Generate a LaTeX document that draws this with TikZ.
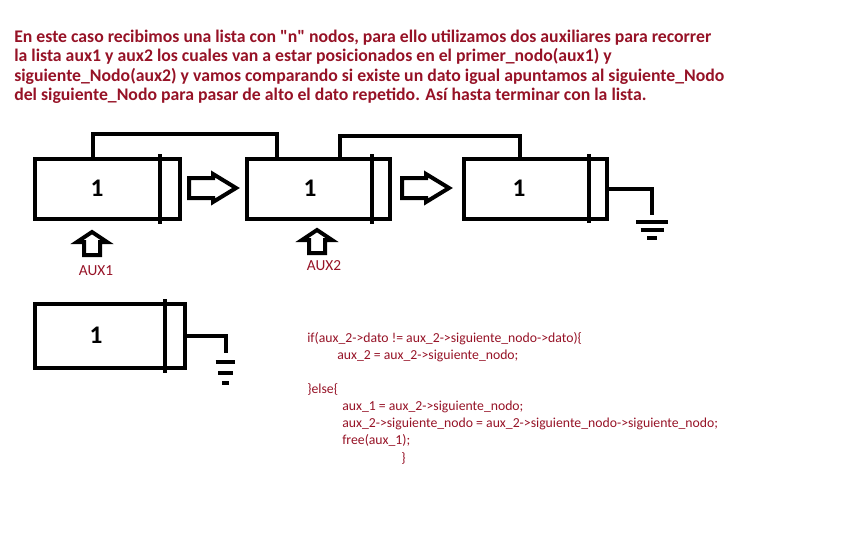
\documentclass[tikz,border=0pt]{standalone}
\usepackage{fontspec}
\setmainfont{Carlito}[Ligatures=TeXOff]
\definecolor{rojo}{RGB}{150,18,38}
\tikzset{
	nodo/.style={draw, line width=3pt, inner sep=0pt, minimum width=108.75pt, minimum height=45pt},
	linea/.style={line width=3pt},
	dato/.style={font=\fontsize{19}{22}\selectfont\bfseries},
	texto/.style={text=rojo, align=left, inner sep=0pt},
	flecha/.pic={\draw[linea] (0,-10) -- (24,-10) -- (24,-14) -- (47,0) -- (24,14) -- (24,10) -- (0,10) -- cycle;},
	puntero/.pic={\draw[linea] (0,-8) -- (13,-8) -- (13,-15) -- (23,0) -- (13,15) -- (13,8) -- (0,8) -- cycle;},
	tierra/.pic={\draw[linea] (-16,7) -- (16,7) (-11.5,15) -- (11.5,15) (-5,23) -- (5,23);}
}

\begin{document}
\begin{tikzpicture}[x=0.75pt, y=-0.75pt]
	\useasboundingbox (0,0) rectangle (841,543);
	% texto de arriba
	\node (titulo) [texto, anchor=north west, font=\fontsize{13.3}{14.4}\selectfont\bfseries] at (14,30)
		{En este caso recibimos una lista con "n" nodos, para ello utilizamos dos auxiliares para recorrer\\
		la lista aux1 y aux2 los cuales van a estar posicionados en el primer\_nodo(aux1) y\\
		siguiente\_Nodo(aux2) y vamos comparando si existe un dato igual apuntamos al siguiente\_Nodo\\
		del siguiente\_Nodo para pasar de alto el dato repetido. Así hasta terminar con la lista.};
	% nodos de la lista
	\node (b1) [nodo] at (107.5,189) {};
	\node (b2) [nodo, minimum width=107.25pt] at (318.5,189) {};
	\node (b3) [nodo, minimum width=107.25pt] at (535.5,188.5) {};
	\node (b4) [nodo, minimum width=112.5pt, minimum height=48pt] at (110,336) {};
	\foreach \b/\d in {b1/16.5pt, b2/15pt, b3/15pt, b4/16.5pt}
		\draw[linea] ([xshift=-\d, yshift=2pt]\b.north east) -- ([xshift=-\d, yshift=-2pt]\b.south east);
	\node (d1) [dato] at (97,188) {1};
	\node (d2) [dato] at (310,188) {1};
	\node (d3) [dato] at (519,188) {1};
	\node (d4) [dato] at (96,335) {1};
	% enlaces por arriba
	\draw[linea] ([xshift=-11.25pt]b1.north) -- ++(0,-23) -| ([xshift=-31.5pt]b2.north);
	\draw[linea] ([xshift=15.75pt]b2.north) -- ++(0,-21) -| ([xshift=-12pt]b3.north);
	% flechas entre nodos
	\pic at (189,188) {flecha};
	\pic at (402,188) {flecha};
	% a tierra
	\coordinate (g3) at (652,215);
	\coordinate (g4) at (225.5,353);
	\draw[linea] (b3.east) -| (g3);
	\draw[linea] (b4.east) -| (g4);
	\pic at (g3) {tierra};
	\pic[xscale=.62, yscale=1.3] at (g4) {tierra};
	% punteros auxiliares
	\pic[rotate=90] at (92,255) {puntero};
	\pic[rotate=90] at (317,253) {puntero};
	\node (aux1) [texto, font=\fontsize{11.5}{13}\selectfont] at (96,271) {AUX1};
	\node (aux2) [texto, font=\fontsize{11.5}{13}\selectfont] at (324,266) {AUX2};
	% codigo
	\node (codigo) [texto, anchor=north west, font=\fontsize{10.3}{12.9}\selectfont] at (307,332)
		{if(aux\_2->dato != aux\_2->siguiente\_nodo->dato)\{\\
		\hspace*{22.5pt}aux\_2 = aux\_2->siguiente\_nodo;\\[12.5pt]
		\}else\{\\
		\hspace*{26.25pt}aux\_1 = aux\_2->siguiente\_nodo;\\
		\hspace*{26.25pt}aux\_2->siguiente\_nodo = aux\_2->siguiente\_nodo->siguiente\_nodo;\\
		\hspace*{26.25pt}free(aux\_1);\\
		\hspace*{70.5pt}\}};
\end{tikzpicture}
\end{document}
